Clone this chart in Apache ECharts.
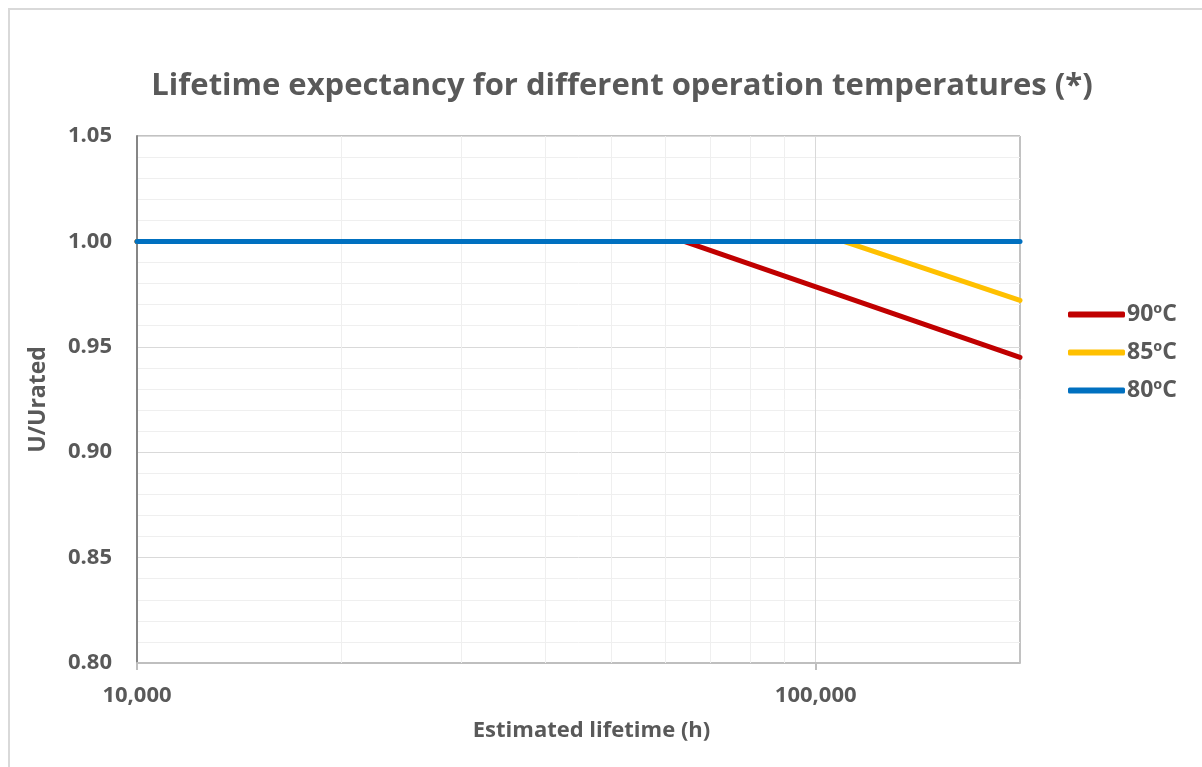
<!DOCTYPE html>
<html>
<head>
<meta charset="utf-8">
<script src="https://cdn.jsdelivr.net/npm/echarts@6/dist/echarts.min.js"></script>
<style>
  html, body { margin: 0; padding: 0; background: #fff; }
  #frame { position: absolute; left: 8px; top: 8px; width: 1300px; height: 900px;
           border-left: 2px solid #d9d9d9; border-top: 2px solid #d9d9d9; }
  #chart { position: absolute; left: 0; top: 0; width: 1202px; height: 767px; }
</style>
</head>
<body>
<div id="frame"></div>
<div id="chart"></div>
<script>
// data (x = hours, log scale; y = U/Urated)
const seriesNames = ['90ºC', '85ºC', '80ºC']
const seriesColors = ['#C00000', '#FFC000', '#0070C0']
const hours90 = [10000, 64000, 200000]
const volt90 = [1.0, 1.0, 0.945]
const hours85 = [10000, 110000, 200000]
const volt85 = [1.0, 1.0, 0.972]
const hours80 = [10000, 200000]
const volt80 = [1.0, 1.0]
const xMajorTicks = [10000, 100000]
const xMinorGrid = [20000, 30000, 40000, 50000, 60000, 70000, 80000, 90000]

const textColor = '#595959'
const font = '"Open Sans", sans-serif'

const chart = echarts.init(document.getElementById('chart'), null, { renderer: 'canvas' })

const pairs = (xs, ys) => xs.map((x, i) => [x, ys[i]])
const lineData = [pairs(hours90, volt90), pairs(hours85, volt85), pairs(hours80, volt80)]

const series = [
  {
    // only carries the minor vertical gridlines of the log axis
    name: 'grid',
    type: 'line',
    data: [],
    z: 1,
    silent: true,
    markLine: {
      silent: true,
      z: 1,
      symbol: 'none',
      label: { show: false },
      lineStyle: { color: '#efefef', width: 1, type: 'solid' },
      data: xMinorGrid.map(v => ({ xAxis: v }))
    }
  }
]
seriesNames.forEach((name, i) => {
  series.push({
    name: name,
    type: 'line',
    data: lineData[i],
    showSymbol: false,
    symbol: 'none',
    z: 3 + i,
    color: seriesColors[i],
    lineStyle: { width: 5, color: seriesColors[i], cap: 'round' }
  })
})

const option = {
  backgroundColor: 'transparent',
  animation: false,
  title: {
    text: 'Lifetime expectancy for different operation temperatures (*)',
    left: 617,
    top: 66,
    textAlign: 'center',
    textStyle: { fontFamily: font, fontSize: 31, fontWeight: 'bold', color: textColor }
  },
  legend: {
    data: seriesNames,
    orient: 'vertical',
    left: 1063,
    top: 298,
    icon: 'roundRect',
    itemWidth: 57,
    itemHeight: 6,
    itemGap: 15,
    textStyle: { fontFamily: font, fontSize: 23, lineHeight: 22, fontWeight: 'bold', color: textColor, padding: [0, 0, 0, -3] }
  },
  grid: {
    left: 137,
    right: 182,
    top: 136,
    bottom: 104,
    show: true,
    borderColor: '#858585',
    borderWidth: 1,
    backgroundColor: '#fff'
  },
  xAxis: {
    type: 'log',
    logBase: 10,
    min: 10000,
    max: 200000,
    name: 'Estimated lifetime (h)',
    nameLocation: 'middle',
    nameGap: 57,
    nameTextStyle: { fontFamily: font, fontSize: 22, fontWeight: 'bold', color: textColor, padding: [0, 0, 0, 26] },
    axisLine: { show: true, lineStyle: { color: '#bfbfbf', width: 2 } },
    axisTick: { show: true, length: 7, customValues: xMajorTicks, lineStyle: { color: '#bfbfbf', width: 2 } },
    axisLabel: {
      customValues: xMajorTicks,
      margin: 22,
      fontFamily: font, fontSize: 22, fontWeight: 'bold', color: textColor,
      formatter: v => Number(v).toLocaleString('en-US')
    },
    splitLine: { show: true, lineStyle: { color: '#d9d9d9', width: 1 } }
  },
  yAxis: {
    type: 'value',
    min: 0.8,
    max: 1.05,
    interval: 0.05,
    name: 'U/Urated',
    nameLocation: 'middle',
    nameRotate: 90,
    nameGap: 87,
    nameTextStyle: { fontFamily: font, fontSize: 23, fontWeight: 'bold', color: textColor },
    axisLine: { show: true, lineStyle: { color: '#868686', width: 2 } },
    axisTick: { show: false },
    axisLabel: {
      margin: 25,
      fontFamily: font, fontSize: 22, fontWeight: 'bold', color: textColor,
      formatter: v => v.toFixed(2)
    },
    splitLine: { show: true, lineStyle: { color: '#d9d9d9', width: 1 } },
    minorTick: { show: false, splitNumber: 5 },
    minorSplitLine: { show: true, lineStyle: { color: '#efefef', width: 1 } }
  },
  series: series
}

chart.setOption(option)
</script>
</body>
</html>
